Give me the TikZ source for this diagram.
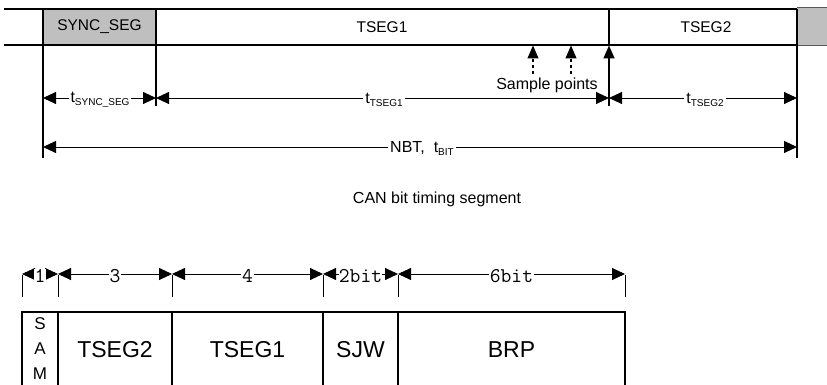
\documentclass[tikz,border=0pt]{standalone}
\usepackage{fontspec}
\setmainfont{Liberation Sans}
\usetikzlibrary{arrows.meta}
\begin{document}
\begin{tikzpicture}[x=1pt,y=-1pt,
  dimline/.style={line width=0.9pt,{Triangle[length=13pt,width=12pt]}-{Triangle[length=13pt,width=12pt]}},
  uparrow/.style={line width=1.2pt,-{Triangle[length=13pt,width=11pt]}},
  dimlabel/.style={fill=white,inner sep=2pt,font=\fontsize{16}{18}\selectfont},
  bitlabel/.style={fill=white,inner sep=1pt,font=\ttfamily\fontsize{21}{22}\selectfont},
  segtext/.style={font=\fontsize{15.5}{18}\selectfont},
  boxtext/.style={font=\fontsize{23}{26}\selectfont},
  barline/.style={line width=2.4pt},
  tick/.style={line width=1pt},
  regbox/.style={line width=2.6pt}
]
\useasboundingbox (0,0) rectangle (827,385);
\clip (0,0) rectangle (827,385);
% ---------- top bar ----------
\fill[gray!50] (43,9) rectangle (156,45);
\fill[gray!50] (797,8) rectangle (827,46);
\draw[gray!70!black,line width=0.8pt] (797,7.5) -- (827,7.5) (797,45.5) -- (827,45.5);
\draw[barline] (4,9) -- (797,9);
\draw[barline] (4,45) -- (797,45);
\draw[line width=1.8pt] (43,9) -- (43,45) (156,9) -- (156,45) (609,9) -- (609,45) (797,9) -- (797,45);
\node[segtext] (sync) at (99.5,27) {SYNC\_SEG};
\node[segtext] (tseg1) at (382,27) {TSEG1};
\node[segtext] (tseg2) at (706,27) {TSEG2};
% extension lines
\coordinate (a1) at (43,45);  \coordinate (a2) at (43,158);
\coordinate (b1) at (156,45); \coordinate (b2) at (156,106);
\coordinate (d1) at (797,45); \coordinate (d2) at (797,158);
\draw[line width=1.2pt] (a1) -- (a2);
\draw[line width=1.2pt] (b1) -- (b2);
\draw[line width=1.2pt] (d1) -- (d2);
% sample points
\coordinate (s1b) at (533,74); \coordinate (s1t) at (533,45.5);
\coordinate (s2b) at (571,74); \coordinate (s2t) at (571,45.5);
\coordinate (s3b) at (609,106); \coordinate (s3t) at (609,45.5);
\draw[uparrow,dash pattern=on 3pt off 3pt] (s1b) -- (s1t);
\draw[uparrow,dash pattern=on 3pt off 3pt] (s2b) -- (s2t);
\draw[line width=1.6pt,-{Triangle[length=13pt,width=11pt]}] (s3b) -- (s3t);
\node[font=\fontsize{16}{18}\selectfont] (sp) at (547,85) {Sample points};
% dimension lines row 1
\coordinate (r1a) at (43,98); \coordinate (r1b) at (156,98);
\coordinate (r1c) at (609,98); \coordinate (r1d) at (797,98);
\draw[dimline] (r1a) -- (r1b);
\draw[dimline] (r1b) -- (r1c);
\draw[dimline] (r1c) -- (r1d);
\node[dimlabel] (ls) at (100,100) {t\raisebox{-3pt}{\fontsize{10}{10}\selectfont SYNC\_SEG}};
\node[dimlabel] (l1) at (384,100) {t\raisebox{-3pt}{\fontsize{10}{10}\selectfont TSEG1}};
\node[dimlabel] (l2) at (705,100) {t\raisebox{-3pt}{\fontsize{10}{10}\selectfont TSEG2}};
% NBT
\coordinate (na) at (43,147); \coordinate (nb) at (797,147);
\draw[dimline] (na) -- (nb);
\node[dimlabel] (nbt) at (422,148) {NBT,\ \ t\raisebox{-3pt}{\fontsize{10}{10}\selectfont BIT}};
\node[font=\fontsize{16}{18}\selectfont] (cap) at (437,199) {CAN bit timing segment};
% ---------- register ----------
\foreach \x/\n in {22/t0,58/t1,172/t2,323/t3,398/t4,625/t5}{
  \coordinate (\n u) at (\x,275);
  \coordinate (\n d) at (\x,297);
  \draw[tick] (\n u) -- (\n d);
}
\foreach \p/\q in {t0/t1,t1/t2,t2/t3,t3/t4,t4/t5}{
  \draw[dimline] ([yshift=1pt]\p u) -- ([yshift=1pt]\q u);
}
\node[bitlabel,inner sep=0.3pt] (n1) at (40,276) {1};
\node[bitlabel] (n3) at (115,276) {3};
\node[bitlabel] (n4) at (247.5,276) {4};
\node[bitlabel,inner sep=0.3pt] (n2) at (360.5,276) {2bit};
\node[bitlabel] (n6) at (511.5,276) {6bit};
\draw[regbox] (22,390) -- (22,312) -- (625,312) -- (625,390);
\foreach \x in {58,172,323,398}{ \draw[regbox] (\x,312) -- (\x,390); }
\node[font=\fontsize{17}{25}\selectfont,align=center] (sam) at (40,349) {S\\A\\M};
\node[boxtext] (bt2) at (115,350) {TSEG2};
\node[boxtext] (bt1) at (247.5,350) {TSEG1};
\node[boxtext] (bsj) at (360.5,350) {SJW};
\node[boxtext] (brp) at (511.5,350) {BRP};
\end{tikzpicture}
\end{document}
